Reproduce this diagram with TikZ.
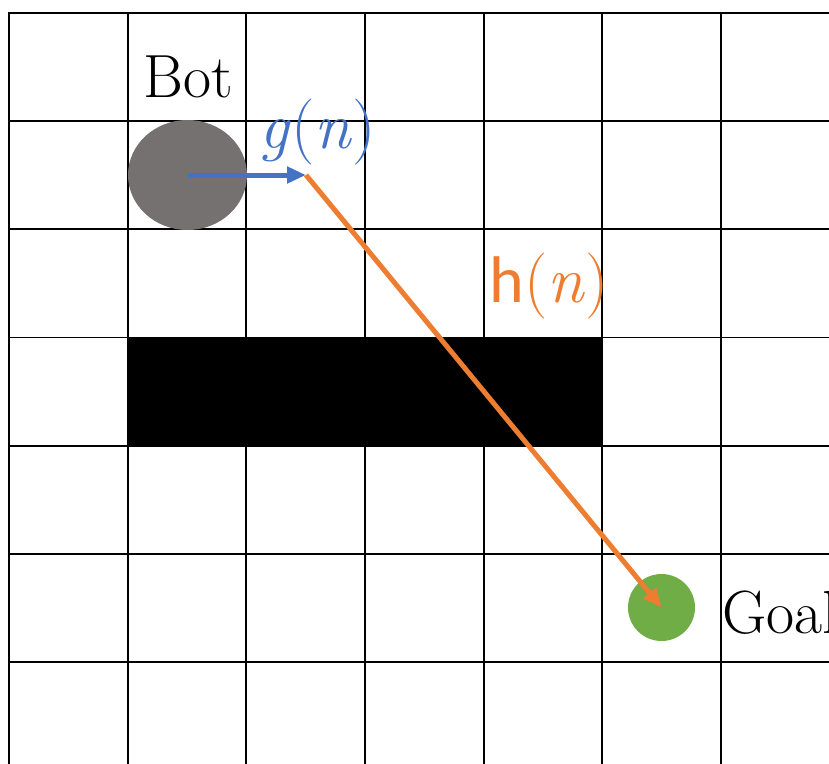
\documentclass[tikz,border=0pt]{standalone}
\usepackage{fontspec}
\newfontfamily\labelsans{Carlito}
\usetikzlibrary{arrows.meta,shapes.geometric}
\definecolor{botgray}{HTML}{767171}
\definecolor{goalgreen}{HTML}{70AD47}
\definecolor{costblue}{HTML}{4472C4}
\definecolor{heurorange}{HTML}{ED7D31}

\begin{document}
\begin{tikzpicture}[x=1pt, y=-1pt,
  gridline/.style={black, line width=1.8pt, line cap=rect},
  bigtext/.style={font=\fontsize{61}{61}\selectfont, inner sep=0pt},
  termlabel/.style={font=\fontsize{66}{66}\selectfont, inner sep=0pt},
  costarrow/.style={line width=5pt, -{Triangle[length=19pt,width=16pt]}}]

\useasboundingbox (0,0) rectangle (829,763);
\clip (0,0) rectangle (829,763);

%% ------------------------------------------------------------------
%% occupancy grid: 7 columns x 7 rows, cropped at right and bottom
%% ------------------------------------------------------------------
\foreach \i in {0,...,6}{ \draw[gridline] (9+\i*118.67,13) -- (9+\i*118.67,770); }
\foreach \j in {0,...,6}{ \draw[gridline] (9,13+\j*108.17) -- (840,13+\j*108.17); }

% the obstacle wall, four cells wide
\fill[black] (128,338) rectangle (602,446);

%% ------------------------------------------------------------------
%% robot, goal and the two cost terms
%% ------------------------------------------------------------------
\node (bot) [ellipse, fill=botgray, minimum width=119pt, minimum height=110pt,
  inner sep=0pt] at (187.5,175) {};
\node (botlabel) [bigtext, anchor=base] at (188,97) {Bot};

\node (goal) [circle, fill=goalgreen, minimum size=67pt, inner sep=0pt]
  at (661.5,607.5) {};
\node (goallabel) [bigtext, anchor=base west] at (722,633) {Goal};

% g(n): cost so far, one step to the right
\coordinate (step) at (306,175);
\draw[costarrow, costblue] (bot.center) -- (step);
\node (glabel) [termlabel, text=costblue, anchor=base] at (318,148)
  {\textit{g}(\textit{n})};

% h(n): straight-line estimate to the goal
\draw[costarrow, heurorange] (step) -- (goal.center);
\node (hlabel) [termlabel, text=heurorange, anchor=base] at (549,302)
  {{\labelsans h}(\textit{n})};

\end{tikzpicture}
\end{document}
